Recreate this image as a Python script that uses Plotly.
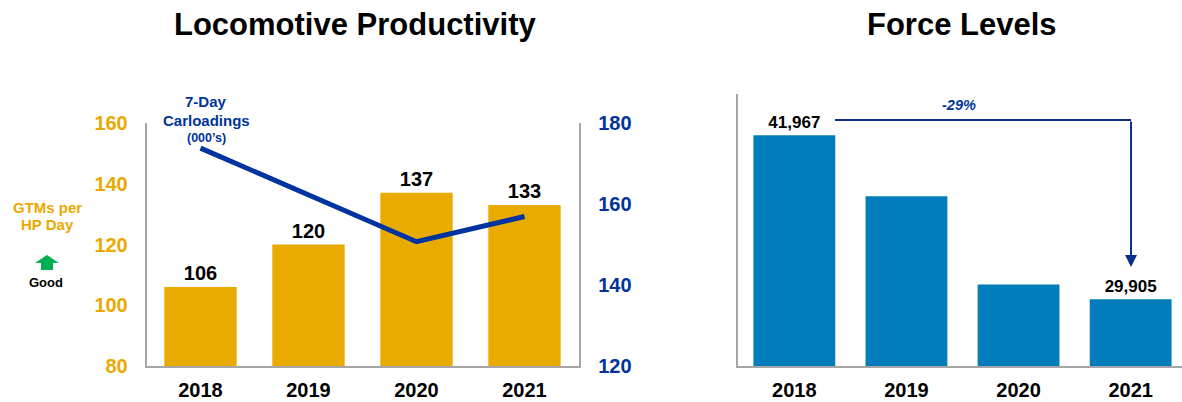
import plotly.graph_objects as go

# ---- data ----
years = ["2018", "2019", "2020", "2021"]
gtms_per_hp_day = [106, 120, 137, 133]
carloadings_7day = [173.8, 162.2, 150.7, 156.9]
force_levels = [41967, 37480, 31000, 29905]
force_labeled = ["2018", "2021"]
force_change_label = "-29%"

W, H = 1182, 402
FONT = "Liberation Sans, Arial, sans-serif"
GOLD = "#EAAB00"
GOLD_TXT = "#EBA900"
NAVY = "#0033A0"
NAVY_TXT = "#00349A"
BLUE = "#007DBA"
AX = "#A6A6A6"


def px(x):
    return x / W


def py(y):
    return 1 - y / H


fig = go.Figure()

fig.add_trace(go.Bar(
    x=years, y=gtms_per_hp_day, marker=dict(color=GOLD, line=dict(width=0)),
    width=0.67, text=[str(v) for v in gtms_per_hp_day], textposition="outside",
    textfont=dict(family=FONT, size=20, color="black", weight="bold"),
    cliponaxis=False, xaxis="x", yaxis="y", showlegend=False,
))
fig.add_trace(go.Scatter(
    x=years, y=carloadings_7day, mode="lines",
    line=dict(color=NAVY, width=5), xaxis="x", yaxis="y2", showlegend=False,
))
fig.add_trace(go.Bar(
    x=years, y=force_levels, marker=dict(color=BLUE, line=dict(width=0)),
    width=0.73,
    text=[f"{v:,}" if yr in force_labeled else "" for yr, v in zip(years, force_levels)],
    textposition="outside",
    textfont=dict(family=FONT, size=17, color="black", weight="bold"),
    cliponaxis=False, xaxis="x2", yaxis="y3", showlegend=False,
))

ydom = [py(366), py(123)]
fig.update_layout(
    width=W, height=H, margin=dict(l=0, r=0, t=0, b=0, autoexpand=False),
    plot_bgcolor="white", paper_bgcolor="white",
    font=dict(family=FONT),
    bargap=0.33,
    xaxis=dict(domain=[px(146.5), px(578.5)], showline=True, linecolor=AX, linewidth=1.5,
               showgrid=False, ticks="", ticklabelstandoff=5, anchor="y", automargin=False,
               tickfont=dict(family=FONT, size=20, color="black", weight="bold")),
    yaxis=dict(domain=ydom, range=[80, 160], dtick=20, showline=True, linecolor=AX,
               linewidth=1.5, showgrid=False, zeroline=False, ticks="", ticklabelstandoff=13,
               automargin=False,
               tickfont=dict(family=FONT, size=20, color=GOLD_TXT, weight="bold"), anchor="x"),
    yaxis2=dict(domain=ydom, range=[120, 180], dtick=20, overlaying="y", side="right",
                showline=True, linecolor=AX, linewidth=1.5, showgrid=False, zeroline=False,
                ticks="", ticklabelstandoff=14, anchor="x", automargin=False,
                tickfont=dict(family=FONT, size=20, color=NAVY_TXT, weight="bold")),
    xaxis2=dict(domain=[px(738.3), 1], range=[-0.5, 3.458], showline=True, linecolor=AX,
                linewidth=1.5, showgrid=False, ticks="", ticklabelstandoff=5, anchor="y3",
                automargin=False,
                tickfont=dict(family=FONT, size=20, color="black", weight="bold")),
    yaxis3=dict(domain=[py(366), py(94)], range=[25000, 45000], showline=True, linecolor=AX,
                linewidth=1.5, showgrid=False, zeroline=False, showticklabels=False,
                ticks="", anchor="x2", automargin=False),
)

ann = []


def text(x, y, t, size, color, italic=False):
    ann.append(dict(x=px(x), y=py(y), xref="paper", yref="paper", text=t, showarrow=False,
                    xanchor="center", yanchor="middle",
                    font=dict(family=FONT, size=size, color=color, weight="bold",
                              style="italic" if italic else "normal")))


text(355, 25, "Locomotive Productivity", 31, "black")
text(962, 25, "Force Levels", 31, "black")
text(206, 101, "7-Day", 15, NAVY_TXT)
text(206, 120.5, "Carloadings", 15, NAVY_TXT)
text(206, 138, "(000’s)", 12.5, NAVY_TXT)
text(48, 207, "GTMs per", 15, GOLD_TXT)
text(48, 224, "HP Day", 15, GOLD_TXT)
text(46, 282, "Good", 13, "black")
text(959, 105, force_change_label, 14.5, NAVY_TXT, italic=True)

# bracket arrow
ann.append(dict(x=px(1131), y=py(267), xref="paper", yref="paper", ax=0, ay=-147,
                axref="pixel", ayref="pixel", text="", showarrow=True, arrowhead=2,
                arrowsize=1.2, arrowwidth=2, arrowcolor="#0B2D8C"))
fig.update_layout(annotations=ann)

pts = [(41, 270), (41, 263), (35, 263), (47, 255), (59, 263), (53, 263), (53, 270)]
path = "M " + " L ".join(f"{px(a):.5f},{py(b):.5f}" for a, b in pts) + " Z"
fig.add_shape(type="path", path=path, xref="paper", yref="paper",
              fillcolor="#00B050", line=dict(width=0))
fig.add_shape(type="line", x0=px(835), x1=px(1131), y0=py(120), y1=py(120),
              xref="paper", yref="paper", line=dict(color="#0B2D8C", width=2))

fig.write_html(
    "out.html",
    config={"displayModeBar": False},
    post_script="document.body.style.margin='0';document.body.style.overflow='hidden';",
)
